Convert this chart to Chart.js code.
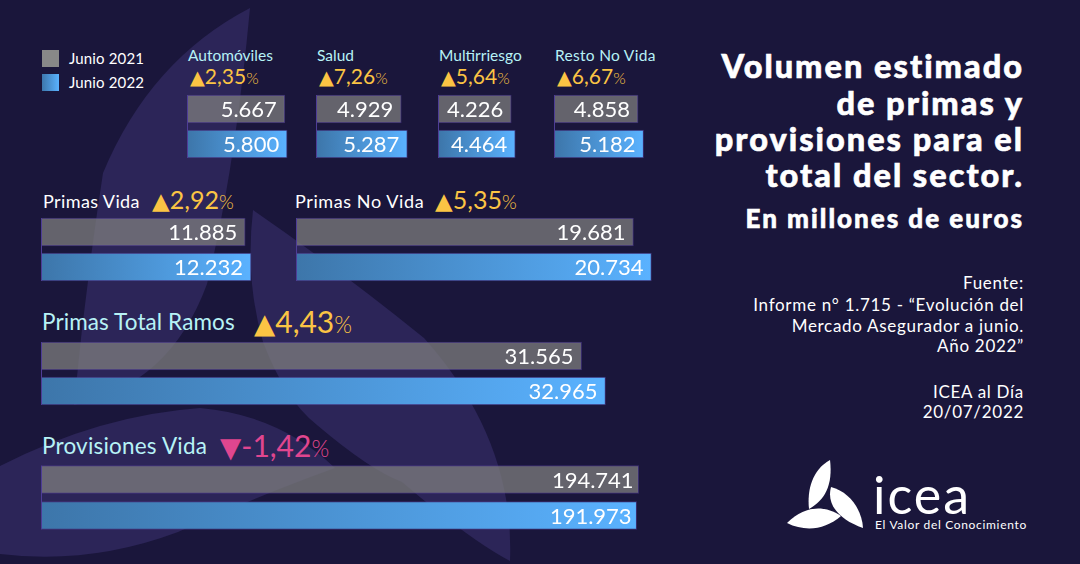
<!DOCTYPE html>
<html lang="es">
<head>
<meta charset="utf-8">
<title>Volumen estimado de primas y provisiones</title>
<script src="https://cdn.jsdelivr.net/npm/chart.js@4"></script>
<style>
  html, body { margin: 0; padding: 0; background: #1a163b; }
  #page { position: relative; width: 1080px; height: 564px; overflow: hidden; background: #1a163b; font-family: Lato, sans-serif; color: #fff; }
  #page canvas { position: absolute; }
  #shapes, #logo { position: absolute; left: 0; top: 0; }
  .t { position: absolute; white-space: nowrap; line-height: 1; }
  .r { right: 56px; text-align: right; }
  .cat { color: #b7f2f6; }
  .up { color: #fbc444; }
  .down { color: #e0468f; }
  .pc { font-weight: 300; font-size: .76em; }
  .tri { font-family: "DejaVu Sans"; font-size: .92em; }
  .title { font-weight: 900; font-size: 32.5px; letter-spacing: 2px; -webkit-text-stroke: .6px #fff; }
  .src { font-size: 17px; letter-spacing: .7px; }
  .sq { position: absolute; left: 42px; width: 17px; height: 17px; }
</style>
</head>
<body>
<div id="page">
  <svg id="shapes" width="1080" height="564">
    <path fill="#2c2558" d="M250 8 Q150 60 103 173 Q85 290 74 405 Q170 385 207 284 Q235 170 250 8Z"/>
    <path fill="#2c2558" d="M253 210 Q245 280 263 342 Q285 400 317 425 Q370 470 402 482 Q470 540 510 561 Q515 440 424 338 Q340 270 253 210Z"/>
    <path fill="#2c2558" d="M0 466 Q100 415 200 408 Q280 415 335 468 Q260 495 178 532 Q90 565 0 554Z"/>
  </svg>

  <div class="sq" style="top:50px;background:#888"></div>
  <div class="sq" style="top:74px;background:linear-gradient(90deg,#3d77ac,#5ab2ff)"></div>
  <div class="t" style="left:69px;top:51px;font-size:15px;letter-spacing:.15px">Junio 2021</div>
  <div class="t" style="left:69px;top:75px;font-size:15px;letter-spacing:.15px">Junio 2022</div>

  <div class="t cat" style="left:188px;top:48px;font-size:15.5px">Automóviles</div>
  <div class="t cat" style="left:317px;top:48px;font-size:15.5px">Salud</div>
  <div class="t cat" style="left:439px;top:48px;font-size:15.5px">Multirriesgo</div>
  <div class="t cat" style="left:555px;top:48px;font-size:15.5px;letter-spacing:.3px">Resto No Vida</div>
  <div class="t up" style="left:190px;top:65px;font-size:21px"><span class="tri">▲</span>2,35<span class="pc">%</span></div>
  <div class="t up" style="left:319px;top:65px;font-size:21px"><span class="tri">▲</span>7,26<span class="pc">%</span></div>
  <div class="t up" style="left:441px;top:65px;font-size:21px"><span class="tri">▲</span>5,64<span class="pc">%</span></div>
  <div class="t up" style="left:557px;top:65px;font-size:21px"><span class="tri">▲</span>6,67<span class="pc">%</span></div>

  <div class="t" style="left:43px;top:192px;font-size:18px;letter-spacing:.4px">Primas Vida</div>
  <div class="t up" style="left:152px;top:187px;font-size:25px"><span class="tri">▲</span>2,92<span class="pc">%</span></div>
  <div class="t" style="left:295px;top:192px;font-size:18px;letter-spacing:.6px">Primas No Vida</div>
  <div class="t up" style="left:435px;top:187px;font-size:25px"><span class="tri">▲</span>5,35<span class="pc">%</span></div>
  <div class="t cat" style="left:42px;top:311px;font-size:22.5px;letter-spacing:.1px">Primas Total Ramos</div>
  <div class="t up" style="left:254px;top:306px;font-size:30px"><span class="tri">▲</span>4,43<span class="pc">%</span></div>
  <div class="t cat" style="left:42px;top:435px;font-size:22.5px;letter-spacing:.2px">Provisiones Vida</div>
  <div class="t down" style="left:220px;top:430px;font-size:30px"><span class="tri">▼</span>-1,42<span class="pc">%</span></div>

  <div class="t r title" style="top:50px">Volumen estimado</div>
  <div class="t r title" style="top:87px">de primas y</div>
  <div class="t r title" style="top:123px">provisiones para el</div>
  <div class="t r title" style="top:159px">total del sector.</div>
  <div class="t r title" style="top:205px;font-size:26px">En millones de euros</div>

  <div class="t r src" style="top:274px">Fuente:</div>
  <div class="t r src" style="top:296px">Informe n° 1.715 - “Evolución del</div>
  <div class="t r src" style="top:317px">Mercado Asegurador a junio.</div>
  <div class="t r src" style="top:337px">Año 2022”</div>
  <div class="t r src" style="top:383px">ICEA al Día</div>
  <div class="t r src" style="top:403px">20/07/2022</div>

  <svg id="logo" width="1080" height="564">
    <path fill="#fff" d="M830 460 C812 470 807 490 809 509 C825 500 833 485 830 460Z"/>
    <path fill="#fff" d="M831 487 C826 505 840 520 863 528 C862 510 850 492 831 487Z"/>
    <path fill="#fff" d="M787 523 C805 505 825 505 841 516 C825 530 805 532 787 523Z"/>
  </svg>
  <div class="t" style="left:873px;top:468px;font-size:52px;letter-spacing:2px">icea</div>
  <div class="t" style="left:875px;top:519px;font-size:12px;letter-spacing:.68px">El Valor del Conocimiento</div>
</div>

<script>
var categories = ['Junio 2021', 'Junio 2022'];
var automoviles = [5667, 5800];
var salud = [4929, 5287];
var multirriesgo = [4226, 4464];
var restoNoVida = [4858, 5182];
var primasVida = [11885, 12232];
var primasNoVida = [19681, 20734];
var primasTotal = [31565, 32965];
var provisionesVida = [194741, 191973];

var page = document.getElementById('page');
var unitsPerPx = 58.5;

function fmt(v) {
  return String(v).replace(/\B(?=(\d{3})+$)/g, '.');
}

var barLabels = {
  id: 'barLabels',
  afterDatasetsDraw: function(chart) {
    var o = chart.options.plugins.barLabels;
    var ctx = chart.ctx;
    var values = chart.data.datasets[0].data;
    var bars = chart.getDatasetMeta(0).data;
    ctx.save();
    // thin line down the base of the two bars
    ctx.fillStyle = '#4e3d96';
    ctx.fillRect(0, bars[0].y - 14, 1, 28 + bars[1].y - bars[0].y);
    ctx.fillStyle = '#fff';
    ctx.font = o.size + 'px Lato';
    ctx.letterSpacing = o.spacing + 'px';
    ctx.textAlign = 'right';
    ctx.textBaseline = 'middle';
    bars.forEach(function(bar, i) {
      ctx.fillText(fmt(values[i]), bar.x - o.pad, bar.y + 1);
    });
    ctx.restore();
  }
};

function fillFor(context) {
  if (context.dataIndex == 0) return 'rgba(125, 125, 125, 0.75)';
  var chart = context.chart;
  var x = chart.scales.x;
  var g = chart.ctx.createLinearGradient(chart.chartArea.left, 0, x.getPixelForValue(context.raw), 0);
  g.addColorStop(0, '#3d76aa');
  g.addColorStop(1, '#5ab2ff');
  return g;
}

function makeBars(values, left, top, width, o) {
  o = o || {};
  var band = o.band || 35;
  var canvas = document.createElement('canvas');
  canvas.width = width + 1;
  canvas.height = band * 2 + 1;
  canvas.style.left = (left - 1) + 'px';
  canvas.style.top = (top - (band - 28) / 2 - 0.5) + 'px';
  page.appendChild(canvas);
  var min = o.min || 0;
  new Chart(canvas, {
    type: 'bar',
    plugins: [barLabels],
    data: {
      labels: categories,
      datasets: [{
        data: values,
        base: min,
        backgroundColor: fillFor,
        borderColor: 'rgba(80, 62, 150, 0.6)',
        borderWidth: 1,
        barThickness: 28
      }]
    },
    options: {
      indexAxis: 'y',
      responsive: false,
      animation: false,
      layout: { padding: { left: 1, top: 0.5, bottom: 0.5, right: 0 } },
      scales: {
        x: { display: false, min: min, max: min + width * (o.perPx || unitsPerPx) },
        y: {
          ticks: { display: false },
          grid: { display: false, drawTicks: false },
          border: { display: false },
          afterFit: function(s) { s.width = 0; }
        }
      },
      plugins: {
        legend: { display: false },
        tooltip: { enabled: false },
        barLabels: { size: o.size || 22, spacing: o.spacing == null ? 0 : o.spacing, pad: o.pad == null ? 8 : o.pad }
      }
    }
  });
}

makeBars(automoviles, 188, 95, 110);
makeBars(salud, 317, 95, 100);
makeBars(multirriesgo, 439, 95, 90);
makeBars(restoNoVida, 555, 95, 100);
makeBars(primasVida, 42, 218, 215);
makeBars(primasNoVida, 297, 218, 365);
makeBars(primasTotal, 42, 342, 570);
// bars in the source are nearly equal long, so the hidden axis starts well below zero
makeBars(provisionesVida, 42, 465, 600, { band: 36, min: -631000, perPx: 1384, pad: 5 });
</script>
</body>
</html>
